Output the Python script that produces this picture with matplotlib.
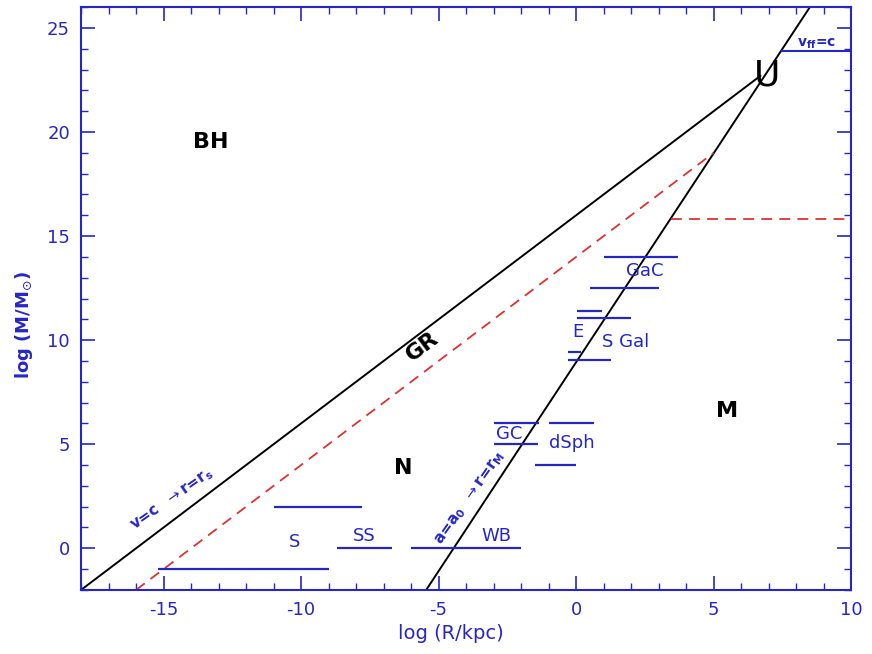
import matplotlib.pyplot as plt
from matplotlib.ticker import MultipleLocator

plt.rcParams['font.family'] = ['DejaVu Sans']
plt.rcParams['axes.unicode_minus'] = False

blue = '#2626c8'

# boundary lines (log R, log M)
gr_x = [-18.0, 6.7]
gr_y = [-2.0, 22.7]
a0_x = [-5.45, 8.5]
a0_y = [-2.0, 26.0]
red_x = [-16.0, 5.0]
red_y = [-2.0, 19.0]
red_h_x = [3.45, 10.0]
red_h_y = [15.8, 15.8]
vff_x = [7.5, 10.0]
vff_y = [23.9, 23.9]

# blue horizontal segments: (x start, x end, log M)
seg_x0 = [-15.2, -11.0, -8.7, -6.0, -3.0, -1.0, -3.0, -1.5, 1.0, 0.5, 0.05, 0.05, -0.3, -0.3]
seg_x1 = [-9.0, -7.8, -6.7, -2.0, -1.35, 0.65, -1.4, 0.0, 3.7, 3.0, 0.95, 2.0, 0.18, 1.27]
seg_y = [-1.0, 2.0, 0.0, 0.0, 6.0, 6.0, 5.0, 4.0, 14.0, 12.5, 11.4, 11.05, 9.43, 9.05]

# object labels
obj_names = ['S', 'SS', 'WB', 'GC', 'dSph', 'E', 'S Gal', 'GaC']
obj_x = [-10.25, -7.7, -2.9, -2.45, -0.15, 0.05, 1.8, 2.5]
obj_y = [0.3, 0.6, 0.6, 5.5, 5.05, 10.4, 9.9, 13.3]

# region labels
reg_names = ['BH', 'N', 'M']
reg_x = [-13.3, -6.3, 5.5]
reg_y = [19.5, 3.85, 6.6]

fig = plt.figure(figsize=(8.72, 6.54), dpi=100)
ax = fig.add_axes([0.093, 0.098, 0.883, 0.891])

ax.plot(gr_x, gr_y, color='black', lw=1.4)
ax.plot(a0_x, a0_y, color='black', lw=1.4)
ax.plot(red_x, red_y, color='#e03030', lw=1.3, ls=(0, (6, 4)))
ax.plot(red_h_x, red_h_y, color='#e03030', lw=1.3, ls=(0, (6, 4)))
ax.plot(vff_x, vff_y, color=blue, lw=1.5)
ax.hlines(seg_y, seg_x0, seg_x1, color=blue, lw=1.6)

for name, x, y in zip(obj_names, obj_x, obj_y):
    ax.text(x, y, name, color=blue, fontsize=13, ha='center', va='center')

for name, x, y in zip(reg_names, reg_x, reg_y):
    ax.text(x, y, name, color='black', fontsize=16, fontweight='bold', ha='center', va='center')

ax.text(-5.6, 9.7, 'GR', color='black', fontsize=16, fontweight='bold',
        rotation=37, ha='center', va='center')
ax.text(6.95, 22.7, 'U', color='black', fontsize=26, ha='center', va='center')
ax.text(-14.7, 2.35, r'v=c  $\rightarrow$r=r$_{\bf s}$', color=blue, fontsize=11,
        fontweight='bold', rotation=35, ha='center', va='center')
ax.text(-3.85, 2.4, r'a=a$_{\bf 0}$  $\rightarrow$r=r$_{\bf M}$', color=blue, fontsize=11,
        fontweight='bold', rotation=55, ha='center', va='center')
ax.text(8.76, 24.25, r'v$_{\bf ff}$=c', color=blue, fontsize=10, fontweight='bold',
        ha='center', va='center')

ax.set_xlim(-18, 10)
ax.set_ylim(-2, 26)
ax.xaxis.set_major_locator(MultipleLocator(5))
ax.xaxis.set_minor_locator(MultipleLocator(1))
ax.yaxis.set_major_locator(MultipleLocator(5))
ax.yaxis.set_minor_locator(MultipleLocator(1))
ax.tick_params(which='both', direction='in', top=True, right=True, color=blue,
               labelcolor=blue, labelsize=13)
ax.tick_params(which='major', length=10, width=1.2, pad=8)
ax.tick_params(which='minor', length=5, width=1.0)
for sp in ax.spines.values():
    sp.set_color(blue)
    sp.set_linewidth(1.5)

ax.set_xlabel('log (R/kpc)', color=blue, fontsize=14, va='center')
ax.xaxis.set_label_coords(0.48, -0.074)
ax.set_ylabel(r'log (M/M$_{\odot}$)', color=blue, fontsize=13, fontweight='bold', va='center')
ax.yaxis.set_label_coords(-0.074, 0.455)

fig.savefig('out.png', dpi=100)
